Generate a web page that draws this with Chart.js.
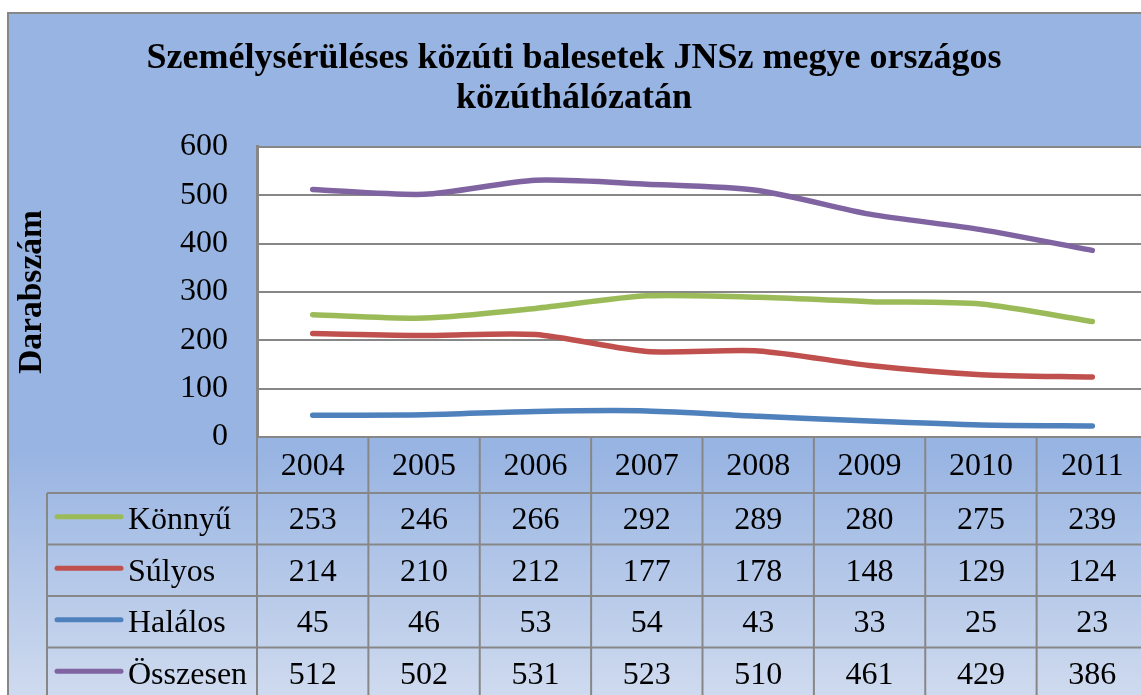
<!DOCTYPE html>
<html>
<head>
<meta charset="utf-8">
<script src="https://cdn.jsdelivr.net/npm/chart.js@4.4.0/dist/chart.umd.min.js"></script>
<style>
html, body { margin: 0; padding: 0; overflow: hidden; background: #fff; }
#wrap { position: absolute; left: 0; top: 0; width: 1170px; height: 720px; }
</style>
</head>
<body>
<div id="wrap"><canvas id="chart"></canvas></div>
<script>
// data
const years = ['2004', '2005', '2006', '2007', '2008', '2009', '2010', '2011'];
const konnyu = [253, 246, 266, 292, 289, 280, 275, 239];
const sulyos = [214, 210, 212, 177, 178, 148, 129, 124];
const halalos = [45, 46, 53, 54, 43, 33, 25, 23];
const osszesen = [512, 502, 531, 523, 510, 461, 429, 386];
const seriesNames = ['Könnyű', 'Súlyos', 'Halálos', 'Összesen'];
const seriesColors = ['#9bbb59', '#c0504d', '#4f81bd', '#8064a2'];
const yTicks = [0, 100, 200, 300, 400, 500, 600];

const FONT = "'Liberation Serif', 'Times New Roman', serif";
const GRID = '#878787';

function line(ctx, x1, y1, x2, y2) {
    ctx.beginPath();
    ctx.moveTo(x1, y1);
    ctx.lineTo(x2, y2);
    ctx.stroke();
}

const frame = {
    id: 'frame',
    beforeDraw(chart) {
        const ctx = chart.ctx, a = chart.chartArea;
        ctx.save();
        ctx.fillStyle = '#fff';
        ctx.fillRect(0, 0, chart.width, chart.height);
        let g = ctx.createLinearGradient(0, 13, 0, chart.height);
        g.addColorStop(0, '#98b4e2');
        g.addColorStop(0.62, '#98b4e2');
        g.addColorStop(1, '#d4def0');
        ctx.fillStyle = g;
        ctx.fillRect(8, 13, chart.width - 16, chart.height - 13);
        ctx.strokeStyle = GRID;
        ctx.lineWidth = 2;
        ctx.strokeRect(8, 13, chart.width - 16, chart.height);
        ctx.fillStyle = '#fff';
        ctx.fillRect(a.left, a.top, a.right - a.left, a.bottom - a.top);
        ctx.restore();
    },
    afterDraw(chart) {
        // data table under the plot
        const ctx = chart.ctx, a = chart.chartArea, xs = chart.scales.x;
        const colW = (a.right - a.left) / years.length;
        const headH = 56, rowH = 51.5, legLeft = 47;
        const sets = chart.data.datasets;
        const bottom = chart.height;
        ctx.save();
        ctx.strokeStyle = GRID;
        ctx.lineWidth = 2;
        for (let r = 0; r <= sets.length; r++) {
            let y = a.bottom + headH + r * rowH;
            line(ctx, legLeft, y, a.right, y);
        }
        for (let i = 0; i <= years.length; i++) {
            let x = a.left + i * colW;
            line(ctx, x, a.bottom, x, bottom);
        }
        line(ctx, legLeft, a.bottom + headH, legLeft, bottom);

        ctx.fillStyle = '#000';
        ctx.font = '32px ' + FONT;
        ctx.textAlign = 'center';
        ctx.textBaseline = 'middle';
        years.forEach((yr, i) => {
            ctx.fillText(yr, xs.getPixelForValue(i), a.bottom + headH / 2 + 2);
        });
        sets.forEach((ds, r) => {
            let cy = a.bottom + headH + r * rowH + rowH / 2 + 2;
            ctx.textAlign = 'center';
            ds.data.forEach((v, i) => {
                ctx.fillText(String(v), xs.getPixelForValue(i), cy);
            });
            ctx.strokeStyle = ds.borderColor;
            ctx.lineWidth = 5;
            ctx.lineCap = 'round';
            line(ctx, 57, cy - 4, 121, cy - 4);
            ctx.textAlign = 'left';
            ctx.fillText(ds.label, 128, cy);
        });
        ctx.restore();
    }
};

const data = {
    labels: years,
    datasets: [konnyu, sulyos, halalos, osszesen].map((vals, i) => ({
        label: seriesNames[i],
        data: vals,
        borderColor: seriesColors[i],
        backgroundColor: seriesColors[i],
        borderWidth: 5.5,
        borderCapStyle: 'round',
        pointRadius: 0,
        tension: 0.25,
        fill: false
    }))
};

const config = {
    type: 'line',
    data: data,
    plugins: [frame],
    options: {
        responsive: true,
        maintainAspectRatio: false,
        animation: false,
        layout: { padding: { top: 13, left: 0, right: 22, bottom: 283 } },
        plugins: {
            legend: { display: false },
            tooltip: { enabled: false },
            title: {
                display: true,
                text: ['Személysérüléses közúti balesetek JNSz megye országos', 'közúthálózatán'],
                color: '#000',
                font: { family: FONT, size: 36, weight: 'bold', lineHeight: 1.11 },
                padding: { top: 26, bottom: 28 }
            }
        },
        scales: {
            x: { display: false, offset: true },
            y: {
                min: 0,
                max: 600,
                afterFit(s) { s.width = 257; },
                afterBuildTicks(s) { s.ticks = yTicks.map(v => ({ value: v })); },
                ticks: { color: '#000', padding: 29, font: { family: FONT, size: 32 } },
                grid: { color: GRID, lineWidth: 2, drawTicks: false },
                border: { display: true, color: GRID, width: 3 },
                title: {
                    display: true,
                    text: 'Darabszám',
                    color: '#000',
                    font: { family: FONT, size: 33.5, weight: 'bold' },
                    padding: { top: 12, bottom: 0 }
                }
            }
        }
    }
};

let c = document.getElementById('chart').getContext('2d');
new Chart(c, config);
</script>
</body>
</html>
